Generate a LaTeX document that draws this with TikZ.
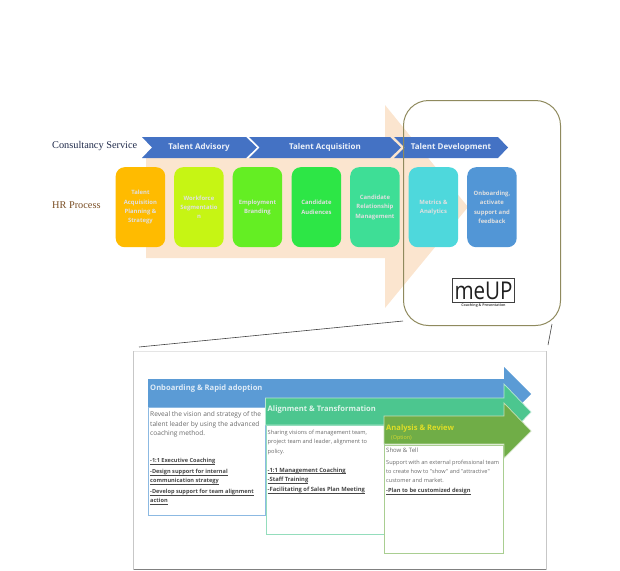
\documentclass[tikz,border=0pt]{standalone}
\usepackage{fontspec}
\usepackage{graphicx}
\setmainfont{Liberation Serif}
\newfontfamily\uifont{Open Sans}
\definecolor{chev}{HTML}{4472C4}
\definecolor{pale}{HTML}{FBE5CF}
\definecolor{frameol}{HTML}{8F8A5E}
\definecolor{barblue}{HTML}{5B9BD5}
\definecolor{bargreen}{HTML}{4CC68F}
\definecolor{barolive}{HTML}{70AD47}
\definecolor{csnavy}{HTML}{1F2A4A}
\definecolor{hrbrown}{HTML}{7A4E24}
\tikzset{
  x=1pt,y=-1pt,
  chevtext/.style={font=\uifont\bfseries\fontsize{8}{10}\selectfont,text=white!90!chev,inner sep=0pt},
  proc/.style={rounded corners=9pt,minimum width=49.5pt,minimum height=80pt,inner sep=0pt,align=center,
    text=white!88!black,font=\uifont\bfseries\fontsize{5.9}{9.4}\selectfont,anchor=north west},
  sidelabel/.style={font=\fontsize{10.3}{13}\selectfont,anchor=west,inner sep=0pt},
  barlabel/.style={font=\uifont\bfseries\fontsize{7.6}{10}\selectfont,anchor=west,inner sep=0pt},
  detail/.style={draw,fill=white,line width=.7pt,anchor=north west,inner sep=0pt},
  bodytext/.style={font=\uifont\fontsize{6.6}{9.4}\selectfont,text=black!58,anchor=north west,inner sep=0pt,align=left},
  linktext/.style={font=\uifont\bfseries\fontsize{5.6}{9}\selectfont,text=black!72,anchor=north west,inner sep=0pt,align=left},
  callout/.style={draw=black!75,line width=.6pt}
}
\newcommand{\ul}[1]{\rlap{\underline{\smash{#1}}}\phantom{#1}}
\begin{document}
\begin{tikzpicture}
\useasboundingbox (0,0) rectangle (620,570);
% big pale arrow
\fill[pale] (146,158) -- (385,158) -- (385,105) -- (468,207) -- (385,308) -- (385,258) -- (146,258) -- cycle;
% chevrons
\fill[chev] (142,137) -- (246,137) -- (257,147.5) -- (246,158) -- (142,158) -- (152,147.5) -- cycle;
\fill[chev] (249,137) -- (390,137) -- (401,147.5) -- (390,158) -- (249,158) -- (259.5,147.5) -- cycle;
\fill[chev] (394,137) -- (498,137) -- (508,147.5) -- (498,158) -- (394,158) -- (404.5,147.5) -- cycle;
\node[chevtext] (adv) at (199,147.5) {Talent Advisory};
\node[chevtext] (acq) at (325,147.5) {Talent Acquisition};
\node[chevtext] (dev) at (451,147.5) {Talent Development};
\node[sidelabel,text=csnavy] (cs) at (52,146) {Consultancy Service};
\node[sidelabel,text=hrbrown] (hr) at (52,205) {HR Process};
% process boxes
\node[proc,fill={rgb,255:red,255;green,187;blue,0}] (p1) at (115.5,167) {Talent\\Acquisition\\Planning \&\\Strategy};
\node[proc,fill={rgb,255:red,198;green,245;blue,20}] (p2) at (174,167) {Workforce\\Segmentatio\\n};
\node[proc,fill={rgb,255:red,100;green,238;blue,35}] (p3) at (232.5,167) {Employment\\Branding};
\node[proc,fill={rgb,255:red,45;green,230;blue,70}] (p4) at (291.5,167) {Candidate\\Audiences};
\node[proc,fill={rgb,255:red,62;green,222;blue,150}] (p5) at (350,167) {Candidate\\Relationship\\Management};
\node[proc,fill={rgb,255:red,78;green,216;blue,220}] (p6) at (408.5,167) {Metrics \&\\Analytics};
\node[proc,fill={rgb,255:red,82;green,150;blue,214}] (p7) at (467,167) {Onboarding,\\activate\\support and\\feedback};
% frame
\node[draw=frameol,line width=1pt,rounded corners=25pt,minimum width=157pt,minimum height=225pt,inner sep=0pt,anchor=north west] (frame) at (403,100) {};
% logo
\node[draw=black!75,line width=1.1pt,minimum width=62pt,minimum height=24pt,inner sep=0pt,anchor=north west,
  font=\uifont\fontsize{24.5}{24}\selectfont,text=black!88] (logo) at (452,278) {\scalebox{.84}[1]{meUP}};
\node[font=\uifont\bfseries\fontsize{3.6}{4}\selectfont,text=black!70,inner sep=0pt] (logosub) at (483.5,305.5) {Coaching \& Presentation};
% panel
\node[draw=black!10,line width=.6pt,fill=white,minimum width=413pt,minimum height=218pt,inner sep=0pt,anchor=north west] (panel) at (133,351) {};
\draw[black!50,line width=1.2pt] (panel.south west) -- (panel.south east);
\draw[black!22,line width=1.6pt] (panel.south east) -- (panel.north east);
\draw[black!22,line width=.7pt] (panel.south west) -- (panel.north west);
% bars
\fill[barblue] (148,379) -- (504,379) -- (504,367) -- (531,394) -- (504,421) -- (504,407) -- (148,407) -- cycle;
\node[detail,draw=barblue!70,minimum width=117pt,minimum height=108pt] (d1) at (148,407) {};
\path[draw=white!60!bargreen,line width=.7pt,fill=bargreen] (265.5,398) -- (504,398) -- (504,384) -- (531,412) -- (504,440) -- (504,425) -- (265.5,425) -- cycle;
\node[detail,draw=bargreen!60,minimum width=118.5pt,minimum height=109pt] (d2) at (265.5,425) {};
\path[draw=white!60!barolive,line width=.7pt,fill=barolive] (384,416) -- (504,416) -- (504,403) -- (531,431) -- (504,458) -- (504,444) -- (384,444) -- cycle;
\node[detail,draw=barolive!60,minimum width=119pt,minimum height=108pt] (d3) at (384,444.5) {};
% bar labels
\node[barlabel,text=white!80!barblue] (b1) at (150,389) {Onboarding \& Rapid adoption};
\node[barlabel,text=white!80!bargreen] (b2) at (267.5,409.5) {Alignment \& Transformation};
\node[barlabel,text=yellow!75!barolive] (b3) at (386,428.5) {Analysis \& Review};
\node[font=\uifont\fontsize{5.4}{7}\selectfont,text=yellow!70!barolive,anchor=west,inner sep=0pt] (b3o) at (391,438.5) {(Option)};
% body 1
\node[bodytext] (t1) at (150,411.5) {Reveal the vision and strategy of the\\talent leader by using the advanced\\coaching method.};
\node[linktext] (l1a) at (150,458) {\ul{-1:1 Executive Coaching}};
\node[linktext] (l1b) at (150,469) {\ul{-Design support for internal}\\\ul{communication strategy}};
\node[linktext] (l1c) at (150,489) {\ul{-Develop support for team alignment}\\\ul{action}};
% body 2
\node[bodytext,font=\uifont\fontsize{5.65}{9.3}\selectfont] (t2) at (267.5,430) {Sharing visions of management team,\\project team and leader, alignment to\\policy.};
\node[linktext,font=\uifont\bfseries\fontsize{5.8}{9.7}\selectfont] (l2) at (267.5,467.5) {\ul{-1:1 Management Coaching}\\\ul{-Staff Training}\\\ul{-Facilitating of Sales Plan Meeting}};
% body 3
\node[bodytext,font=\uifont\fontsize{6}{9.4}\selectfont] (t3a) at (386,448) {Show \& Tell};
\node[bodytext,font=\uifont\fontsize{5.6}{8.8}\selectfont] (t3b) at (386,460) {Support with an external professional team\\to create how to "show" and "attractive"\\customer and market.};
\node[linktext,font=\uifont\bfseries\fontsize{5.7}{9}\selectfont] (l3) at (386,488) {\ul{-Plan to be customized design}};
% callout lines
\coordinate (cl) at (403,321);
\coordinate (cr) at (552,324);
\coordinate (pl) at (139,347);
\coordinate (pr) at (548,345);
\draw[callout] (pl) -- (cl);
\draw[callout] (cr) -- (pr);
\end{tikzpicture}
\end{document}
